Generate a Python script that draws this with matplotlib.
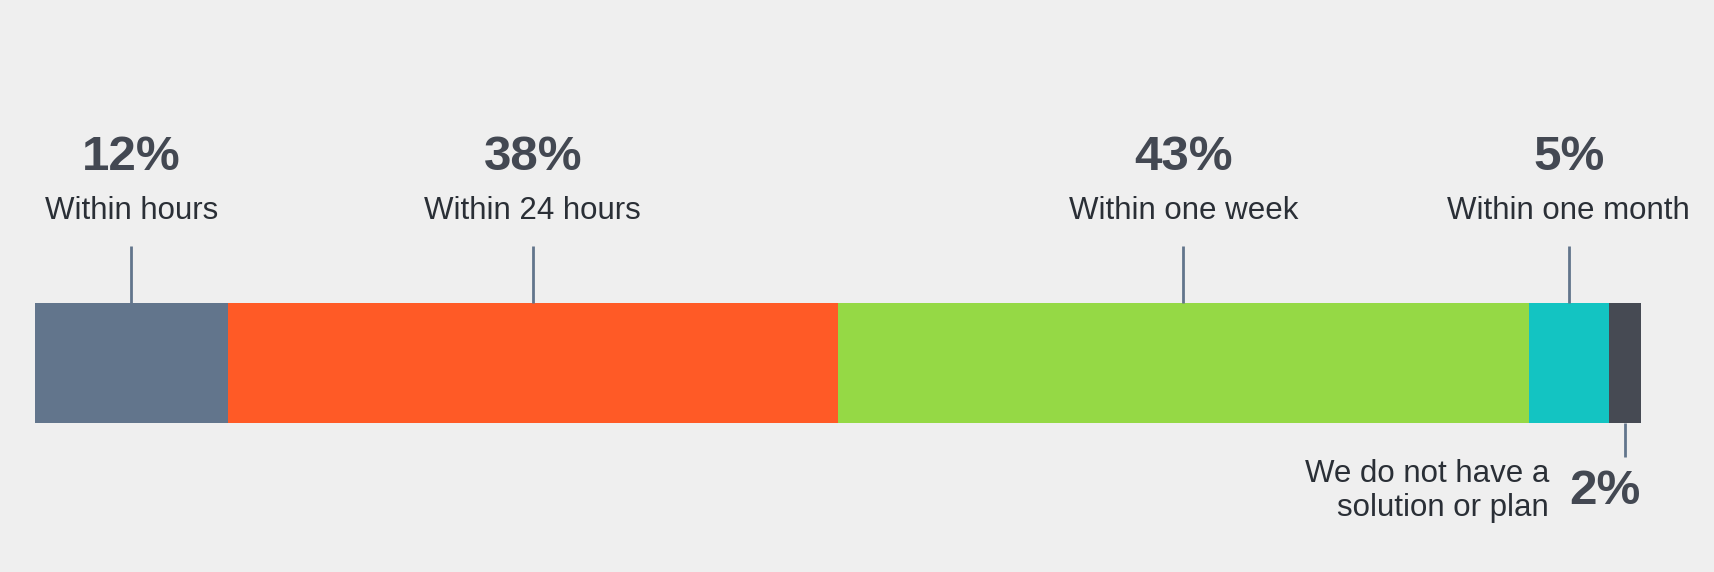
import matplotlib.pyplot as plt
import numpy as np

categories = ["Within hours", "Within 24 hours", "Within one week",
              "Within one month", "We do not have a\nsolution or plan"]
values = [12, 38, 43, 5, 2]
colors = ["#62758c", "#ff5a26", "#95d945", "#13c4c2", "#464a53"]

bg = "#efefef"
num_color = "#434852"
txt_color = "#2a2f36"
line_color = "#62758c"

plt.rcParams['font.family'] = ['Liberation Sans', 'DejaVu Sans']

fig = plt.figure(figsize=(17.15, 5.72), dpi=100, facecolor=bg)
# axis spans the bar horizontally, y in pixel rows (top-down)
ax = fig.add_axes([35 / 1715, 0, 1606 / 1715, 1])
ax.set_facecolor(bg)
ax.set_xlim(0, 100)
ax.set_ylim(572, 0)
ax.axis("off")

lefts = np.concatenate([[0], np.cumsum(values)[:-1]])
ax.barh(363, values, left=lefts, height=120, color=colors, linewidth=0)

for cat, v, l in zip(categories, values, lefts):
    cx = l + v / 2
    if v >= 5:
        ax.plot([cx, cx], [246, 303], color=line_color, lw=2, solid_capstyle="butt")
        ax.text(cx, 157, f"{v}%", ha="center", va="center", fontsize=35.5,
                fontweight="bold", color=num_color)
        ax.text(cx, 211, cat, ha="center", va="center", fontsize=22.5,
                color=txt_color)
    else:
        ax.plot([cx, cx], [423, 457], color=line_color, lw=2, solid_capstyle="butt")
        ax.text(100, 492, f"{v}%", ha="right", va="center", fontsize=35.5,
                fontweight="bold", color=num_color)
        ax.annotate(cat, xy=(100, 491), xytext=(-92 * 0.72, 0),
                    textcoords="offset points", ha="right", va="center",
                    fontsize=22.5, color=txt_color, linespacing=1.2)

fig.savefig("out.png", dpi=100, facecolor=bg)
